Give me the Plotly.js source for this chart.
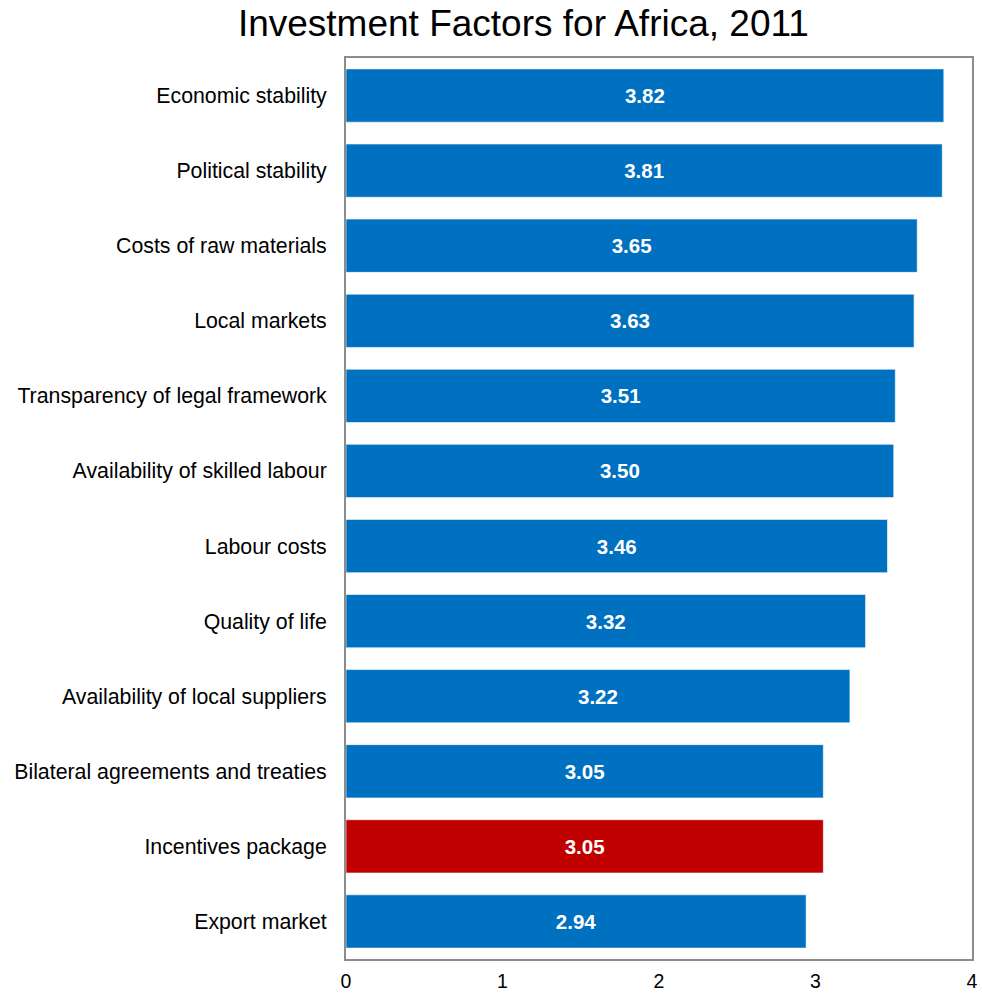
<!DOCTYPE html>
<html>
<head>
<meta charset="utf-8">
<script src="https://cdn.plot.ly/plotly-3.0.1.min.js"></script>
<style>html,body{margin:0;padding:0;background:#fff;}#chart{width:982px;height:993px;}</style>
</head>
<body>
<div id="chart"></div>
<script>
const categories = [
  "Economic stability",
  "Political stability",
  "Costs of raw materials",
  "Local markets",
  "Transparency of legal framework",
  "Availability of skilled labour",
  "Labour costs",
  "Quality of life",
  "Availability of local suppliers",
  "Bilateral agreements and treaties",
  "Incentives package",
  "Export market"
];
const values = [3.82, 3.81, 3.65, 3.63, 3.51, 3.50, 3.46, 3.32, 3.22, 3.05, 3.05, 2.94];
const highlight = "Incentives package";
const tickVals = [0, 1, 2, 3, 4];

const colors = categories.map(c => c === highlight ? "#C00000" : "#0070C0");

const trace = {
  type: "bar",
  orientation: "h",
  y: categories,
  x: values,
  marker: {color: colors, line: {color: "rgba(255,255,255,0.6)", width: 1}},
  text: values.map(v => v.toFixed(2)),
  textposition: "inside",
  insidetextanchor: "middle",
  textfont: {family: "Liberation Sans, Arial, sans-serif", size: 20.5, color: "#ffffff", weight: "bold"},
  hoverinfo: "none"
};

const layout = {
  width: 982,
  height: 993,
  margin: {l: 346, r: 10, t: 58, b: 34},
  paper_bgcolor: "#ffffff",
  plot_bgcolor: "#ffffff",
  bargap: 0.29,
  showlegend: false,
  font: {family: "Liberation Sans, Arial, sans-serif", size: 21, color: "#000000"},
  title: {
    text: "Investment Factors for Africa, 2011",
    font: {family: "Liberation Sans, Arial, sans-serif", size: 37, color: "#000000"},
    x: 0.533, xanchor: "center", xref: "container",
    y: 0.977, yanchor: "middle", yref: "container"
  },
  xaxis: {
    range: [0, 4],
    tickvals: tickVals,
    ticktext: tickVals.map(String),
    showgrid: false,
    zeroline: false,
    showline: true,
    linecolor: "#8c8c8c",
    linewidth: 2,
    mirror: true,
    ticks: "",
    tickfont: {size: 19.5, color: "#000000"},
    ticklabelstandoff: 4
  },
  yaxis: {
    categoryorder: "array",
    categoryarray: categories,
    autorange: "reversed",
    showgrid: false,
    zeroline: false,
    showline: true,
    linecolor: "#8c8c8c",
    linewidth: 2,
    mirror: true,
    ticks: "",
    tickfont: {size: 21.3, color: "#000000"},
    ticklabelstandoff: 13
  }
};

Plotly.newPlot("chart", [trace], layout, {displayModeBar: false, staticPlot: true});
</script>
</body>
</html>
